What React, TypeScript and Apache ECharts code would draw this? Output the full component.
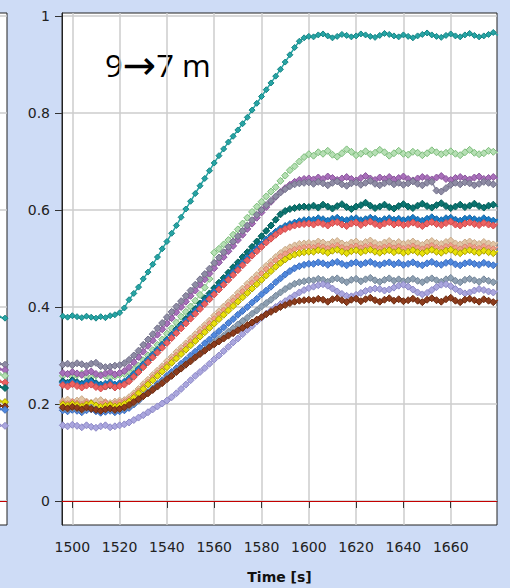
import React, { useEffect, useRef } from 'react';
import * as echarts from 'echarts';

// Sample times (s), one every 2 s
const TIMES = [
  1496, 1498, 1500, 1502, 1504, 1506, 1508, 1510, 1512, 1514, 1516, 1518, 1520,
  1522, 1524, 1526, 1528, 1530, 1532, 1534, 1536, 1538, 1540, 1542, 1544, 1546, 1548, 1550,
  1552, 1554, 1556, 1558, 1560, 1562, 1564, 1566, 1568, 1570, 1572, 1574, 1576, 1578, 1580,
  1582, 1584, 1586, 1588, 1590, 1592, 1594, 1596, 1598, 1600,
  1602, 1604, 1606, 1608, 1610, 1612, 1614, 1616, 1618, 1620, 1622, 1624, 1626, 1628, 1630,
  1632, 1634, 1636, 1638, 1640, 1642, 1644, 1646, 1648, 1650, 1652, 1654, 1656, 1658, 1660,
  1662, 1664, 1666, 1668, 1670, 1672, 1674, 1676, 1678, 1680,
];

// Sensor readings, in thousandths
const TEAL = [
  381, 379, 382, 380, 378, 381, 379, 377, 380, 378, 382, 384, 388,
  398, 415, 428, 441, 458, 472, 488, 503, 520, 535, 552, 568, 585, 602, 618, 634, 650, 665, 681, 697,
  712, 726, 740, 752, 765, 778, 791, 806, 820, 834, 848, 862, 876, 890, 905, 920, 935, 948, 955, 958,
  957, 961, 963, 959, 955, 958, 962, 960, 957, 959, 963, 961, 958, 956, 960, 964, 962, 959, 957, 961,
  958, 955, 959, 962, 965, 961, 958, 956, 960, 963, 959, 957, 961, 964, 960, 957, 959, 962, 966, 960,
];
const LIGHT_GREEN = [
  258, 262, 256, 260, 263, 257, 255, 259, 261, 258, 254, 257, 260,
  262, 266, 272, 279, 290, 300, 311, 322, 333, 345, 356, 368, 380, 390, 401, 413, 425, 440, 458, 512,
  520, 529, 538, 549, 560, 572, 584, 596, 607, 617, 628, 638, 647, 660, 671, 682, 690, 700, 709, 715,
  712, 719, 716, 722, 714, 710, 717, 725, 720, 713, 716, 721, 715, 718, 724, 719, 712, 717, 722, 716,
  714, 720, 718, 713, 717, 723, 719, 715, 718, 721, 716, 713, 719, 724, 718, 715, 717, 722, 720, 718,
];
const PURPLE = [
  264, 262, 266, 263, 260, 265, 267, 262, 259, 263, 266, 261, 264,
  268, 276, 286, 297, 308, 320, 331, 343, 354, 366, 377, 389, 400, 411, 423, 434, 446, 457, 469, 480,
  492, 503, 515, 526, 538, 549, 561, 572, 584, 595, 606, 617, 627, 637, 645, 652, 658, 662, 664, 665,
  663, 667, 664, 669, 666, 662, 665, 668, 664, 661, 666, 670, 665, 662, 667, 664, 668, 663, 666, 669,
  664, 661, 665, 668, 666, 663, 667, 670, 664, 662, 666, 668, 665, 663, 667, 669, 664, 666, 668, 665,
];
const GRAY = [
  281, 283, 280, 284, 282, 279, 283, 285, 278, 276, 277, 279, 280,
  284, 291, 300, 310, 322, 333, 344, 356, 367, 379, 390, 401, 412, 423, 434, 446, 457, 468, 479, 491,
  502, 513, 524, 535, 546, 557, 568, 579, 590, 600, 610, 619, 628, 636, 643, 649, 653, 655, 656, 657,
  654, 658, 655, 651, 656, 659, 653, 650, 655, 657, 652, 656, 660, 654, 651, 655, 658, 653, 656, 652,
  655, 659, 654, 651, 656, 658, 640, 638, 645, 652, 656, 653, 657, 655, 651, 654, 658, 656, 653, 655,
];
const DARK_TEAL = [
  247, 244, 249, 245, 242, 246, 248, 243, 240, 236, 238, 235, 239,
  243, 250, 259, 269, 279, 290, 300, 311, 322, 332, 343, 354, 364, 375, 386, 396, 407, 418, 428, 439,
  450, 460, 471, 482, 492, 503, 513, 524, 535, 546, 557, 568, 580, 591, 598, 602, 604, 606, 607, 606,
  609, 605, 611, 607, 603, 608, 612, 606, 602, 607, 610, 615, 609, 604, 607, 611, 606, 603, 608, 612,
  607, 604, 609, 613, 608, 605, 610, 614, 608, 604, 607, 611, 606, 609, 613, 608, 605, 609, 611, 607,
];
const BLUE = [
  244, 242, 246, 243, 240, 245, 246, 241, 239, 242, 245, 240, 243,
  246, 253, 262, 272, 282, 292, 302, 312, 322, 332, 342, 352, 362, 372, 382, 392, 402, 412, 422, 432,
  442, 452, 462, 472, 482, 492, 502, 512, 521, 530, 539, 547, 555, 562, 567, 571, 574, 577, 579, 580,
  580, 583, 581, 578, 582, 584, 580, 579, 582, 583, 579, 581, 584, 582, 578, 581, 583, 580, 582, 579,
  581, 584, 580, 578, 582, 585, 581, 579, 583, 584, 580, 578, 582, 583, 581, 579, 583, 580, 578, 581,
];
const RED = [
  239, 236, 241, 237, 234, 238, 240, 235, 232, 236, 239, 234, 237,
  240, 247, 256, 266, 276, 286, 296, 306, 316, 326, 336, 346, 356, 366, 376, 386, 396, 406, 416, 426,
  436, 446, 456, 466, 476, 486, 496, 506, 515, 524, 533, 541, 549, 556, 561, 565, 568, 570, 571, 572,
  570, 574, 571, 568, 573, 575, 570, 567, 572, 574, 569, 573, 576, 571, 568, 572, 575, 570, 573, 569,
  571, 574, 570, 567, 572, 575, 571, 569, 573, 576, 570, 568, 572, 574, 571, 569, 573, 570, 568, 572,
];
const TAN = [
  206, 209, 204, 207, 210, 205, 203, 206, 208, 204, 202, 205, 207,
  208, 214, 222, 231, 241, 250, 260, 269, 278, 288, 297, 307, 316, 325, 335, 344, 354, 363, 372, 382,
  391, 401, 410, 419, 429, 438, 448, 457, 466, 476, 485, 494, 503, 511, 518, 523, 527, 530, 531, 532,
  531, 535, 533, 529, 534, 536, 531, 528, 533, 535, 530, 534, 537, 532, 529, 533, 536, 531, 534, 530,
  532, 535, 531, 528, 533, 536, 532, 530, 534, 537, 531, 529, 533, 535, 532, 530, 534, 531, 529, 533,
];
const SALMON = [
  203, 201, 205, 202, 199, 204, 201, 198, 200, 203, 199, 201, 204,
  205, 210, 218, 227, 236, 245, 255, 264, 273, 282, 292, 301, 310, 320, 329, 338, 348, 357, 366, 376,
  385, 394, 404, 413, 422, 432, 441, 450, 459, 469, 478, 487, 496, 504, 510, 515, 519, 521, 523, 524,
  523, 526, 524, 521, 525, 527, 523, 520, 524, 526, 522, 525, 527, 523, 521, 524, 526, 522, 525, 521,
  523, 526, 522, 520, 524, 527, 523, 521, 525, 527, 522, 520, 524, 526, 523, 521, 525, 522, 520, 524,
];
const YELLOW = [
  199, 197, 200, 198, 195, 199, 201, 197, 194, 196, 198, 195, 197,
  200, 205, 213, 222, 231, 240, 249, 258, 267, 276, 285, 294, 303, 312, 321, 330, 339, 348, 357, 366,
  375, 384, 393, 402, 411, 420, 429, 438, 447, 456, 465, 474, 483, 491, 498, 504, 508, 511, 513, 514,
  514, 517, 515, 512, 516, 518, 514, 511, 515, 517, 513, 516, 518, 514, 512, 515, 517, 513, 516, 512,
  514, 517, 513, 511, 515, 518, 514, 512, 516, 518, 513, 511, 515, 517, 514, 512, 516, 513, 511, 515,
];
const CORNFLOWER = [
  187, 185, 188, 186, 183, 187, 189, 185, 182, 184, 186, 183, 185,
  187, 192, 199, 207, 216, 224, 232, 241, 249, 258, 266, 274, 283, 291, 300, 308, 316, 325, 333, 342,
  350, 358, 367, 375, 384, 392, 400, 409, 417, 426, 434, 442, 451, 459, 467, 474, 480, 484, 487, 489,
  489, 492, 490, 487, 491, 493, 489, 486, 490, 492, 488, 491, 493, 489, 487, 490, 492, 488, 491, 487,
  489, 492, 488, 486, 490, 493, 489, 487, 491, 493, 488, 486, 490, 492, 489, 487, 491, 488, 486, 490,
];
const SLATE = [
  191, 189, 192, 190, 187, 191, 193, 189, 186, 188, 190, 187, 189,
  191, 195, 201, 208, 216, 223, 230, 238, 245, 253, 260, 267, 275, 282, 290, 297, 304, 312, 319, 327,
  334, 341, 349, 356, 364, 371, 378, 386, 393, 401, 408, 415, 423, 430, 437, 443, 448, 451, 453, 455,
  455, 458, 456, 452, 457, 459, 455, 451, 456, 458, 453, 457, 460, 455, 452, 456, 459, 454, 457, 453,
  455, 458, 454, 451, 456, 459, 455, 452, 457, 460, 454, 451, 456, 458, 455, 452, 457, 454, 451, 455,
];
const LAVENDER = [
  156, 154, 157, 155, 152, 156, 153, 151, 154, 156, 152, 154, 156,
  158, 162, 167, 172, 177, 183, 189, 195, 201, 207, 214, 222, 231, 240, 249, 258, 266, 274, 283, 292,
  300, 309, 318, 327, 335, 344, 353, 361, 370, 378, 386, 393, 400, 406, 412, 418, 424, 430, 435, 439,
  442, 445, 447, 444, 438, 432, 427, 423, 422, 425, 429, 433, 436, 438, 437, 434, 436, 440, 444, 446,
  442, 436, 430, 426, 429, 435, 441, 446, 447, 443, 437, 432, 428, 430, 434, 437, 435, 432, 430, 433,
];
const BROWN = [
  193, 191, 194, 192, 189, 193, 190, 188, 186, 189, 191, 188, 190,
  193, 198, 204, 210, 216, 222, 229, 236, 243, 251, 258, 266, 273, 281, 288, 296, 303, 310, 317, 323,
  329, 335, 341, 346, 352, 357, 363, 368, 374, 379, 385, 390, 395, 400, 404, 408, 411, 413, 414, 415,
  414, 417, 415, 411, 416, 418, 414, 410, 415, 417, 412, 416, 419, 414, 411, 415, 418, 413, 416, 412,
  414, 417, 413, 410, 415, 418, 414, 411, 416, 419, 413, 410, 415, 417, 414, 411, 416, 413, 410, 414,
];

// Tail end of the neighbouring panel (previous step), in thousandths
const PREV_X = [38, 45];
const PREV_TEAL = [380, 377];
const PREV_GRAY = [283, 281];
const PREV_PURPLE = [272, 270];
const PREV_LIGHT_GREEN = [262, 258];
const PREV_RED = [247, 244];
const PREV_DARK_TEAL = [236, 233];
const PREV_YELLOW = [206, 204];
const PREV_BROWN = [197, 195];
const PREV_CORNFLOWER = [190, 188];
const PREV_LAVENDER = [156, 155];

const X_TICKS = [1500, 1520, 1540, 1560, 1580, 1600, 1620, 1640, 1660];
const Y_TICKS = [0, 0.2, 0.4, 0.6, 0.8, 1];

const X_MIN = 1495.64;
const X_MAX = 1679.57;
const Y_MIN = -0.0495;
const Y_MAX = 1.0062;

type Style = { name: string; color: string; border: string; symbol: string; size: number };

const STYLES: Record<string, Style> = {
  teal: { name: 'S1', color: '#26a4a4', border: '#168484', symbol: 'diamond', size: 6 },
  lightGreen: { name: 'S2', color: '#b6dfb4', border: '#7cbd7a', symbol: 'diamond', size: 7 },
  purple: { name: 'S3', color: '#a86fba', border: '#8a569c', symbol: 'diamond', size: 7 },
  gray: { name: 'S4', color: '#8e8ca4', border: '#72708a', symbol: 'diamond', size: 7 },
  darkTeal: { name: 'S5', color: '#0b736f', border: '#005c58', symbol: 'diamond', size: 7 },
  blue: { name: 'S6', color: '#1c7cc6', border: '#1466a8', symbol: 'diamond', size: 7 },
  red: { name: 'S7', color: '#ec6262', border: '#d24a4a', symbol: 'diamond', size: 7 },
  tan: { name: 'S8', color: '#e2c6a6', border: '#c9aa88', symbol: 'diamond', size: 7 },
  salmon: { name: 'S9', color: '#f0a08a', border: '#d88670', symbol: 'diamond', size: 6 },
  yellow: { name: 'S10', color: '#e8e00a', border: '#a89e00', symbol: 'diamond', size: 7 },
  cornflower: { name: 'S11', color: '#5088dc', border: '#3a6cc0', symbol: 'diamond', size: 7 },
  slate: { name: 'S12', color: '#8ea0b2', border: '#728498', symbol: 'diamond', size: 7 },
  lavender: { name: 'S13', color: '#aaa6de', border: '#8c88c6', symbol: 'diamond', size: 7 },
  brown: { name: 'S14', color: '#8c3c1c', border: '#6c2a10', symbol: 'diamond', size: 7 },
};

function mainSeries(key: string, values: number[]) {
  const s = STYLES[key];
  return {
    type: 'line',
    name: s.name,
    xAxisIndex: 0,
    yAxisIndex: 0,
    data: TIMES.map((t, i) => [t, values[i] / 1000]),
    symbol: s.symbol,
    symbolSize: s.size,
    showSymbol: true,
    showAllSymbol: true,
    clip: true,
    silent: true,
    lineStyle: { color: s.color, width: 1.5 },
    itemStyle: { color: s.color, borderColor: s.border, borderWidth: 1 },
    emphasis: { disabled: true },
  };
}

function prevSeries(key: string, values: number[]) {
  const s = STYLES[key];
  return {
    type: 'line',
    xAxisIndex: 1,
    yAxisIndex: 1,
    data: PREV_X.map((x, i) => [x, values[i] / 1000]),
    symbol: s.symbol,
    symbolSize: s.size,
    showSymbol: true,
    clip: true,
    silent: true,
    lineStyle: { color: s.color, width: 1.5 },
    itemStyle: { color: s.color, borderColor: s.border, borderWidth: 1 },
    emphasis: { disabled: true },
  };
}

const zeroLine = {
  silent: true,
  symbol: 'none',
  label: { show: false },
  lineStyle: { color: '#c40000', width: 1.2, type: 'solid' },
  data: [{ yAxis: 0 }],
};

const tickFont = { fontFamily: 'DejaVu Sans', fontSize: 14, color: '#222' };

const option = {
  animation: false,
  backgroundColor: '#cedcf6',
  grid: [
    {
      left: 62, top: 13, width: 435, height: 512,
      show: true, backgroundColor: '#ffffff', borderColor: '#222', borderWidth: 1,
      containLabel: false, outerBoundsMode: 'none',
    },
    {
      left: -40, top: 13, width: 47, height: 512,
      show: true, backgroundColor: '#ffffff', borderColor: '#222', borderWidth: 1,
      containLabel: false, outerBoundsMode: 'none',
    },
  ],
  xAxis: [
    {
      type: 'value', gridIndex: 0, min: X_MIN, max: X_MAX,
      axisLine: { show: true, lineStyle: { color: '#222', width: 1 } },
      axisTick: { show: true, customValues: X_TICKS, length: 7, lineStyle: { color: '#333', width: 1 } },
      axisLabel: {
        show: true, customValues: X_TICKS, margin: 15, ...tickFont,
        formatter: (v: number) => String(v),
      },
      splitLine: { show: true, lineStyle: { color: '#cdcdcd', width: 1.5 } },
      name: 'Time [s]', nameLocation: 'middle', nameGap: 45,
      nameTextStyle: { fontFamily: 'DejaVu Sans', fontSize: 14, fontWeight: 'bold', color: '#111' },
    },
    {
      type: 'value', gridIndex: 1, min: 0, max: 47, show: false,
    },
  ],
  yAxis: [
    {
      type: 'value', gridIndex: 0, min: Y_MIN, max: Y_MAX,
      axisLine: { show: true, lineStyle: { color: '#222', width: 1 } },
      axisTick: { show: true, customValues: Y_TICKS, length: 7, lineStyle: { color: '#333', width: 1 } },
      axisLabel: {
        show: true, customValues: Y_TICKS, margin: 12, ...tickFont,
        formatter: (v: number) => String(v),
      },
      splitLine: { show: true, lineStyle: { color: '#cdcdcd', width: 1.5 } },
    },
    {
      type: 'value', gridIndex: 1, min: Y_MIN, max: Y_MAX,
      axisLine: { show: false },
      axisTick: { show: false, customValues: Y_TICKS },
      axisLabel: { show: false, customValues: Y_TICKS },
      splitLine: { show: true, lineStyle: { color: '#cdcdcd', width: 1.5 } },
    },
  ],
  graphic: [
    {
      type: 'text',
      left: 105,
      top: 45,
      silent: true,
      style: {
        text: '{n|9}{a|→}{n|7 m}',
        rich: {
          n: { fontFamily: 'Open Sans', fontSize: 31, fill: '#000', verticalAlign: 'middle' },
          a: { fontFamily: 'DejaVu Sans', fontSize: 40, fill: '#000', verticalAlign: 'middle' },
        },
      },
    },
  ],
  series: [
    { ...mainSeries('teal', TEAL), markLine: zeroLine },
    mainSeries('lightGreen', LIGHT_GREEN),
    mainSeries('purple', PURPLE),
    mainSeries('gray', GRAY),
    mainSeries('darkTeal', DARK_TEAL),
    mainSeries('blue', BLUE),
    mainSeries('red', RED),
    mainSeries('tan', TAN),
    mainSeries('salmon', SALMON),
    mainSeries('yellow', YELLOW),
    mainSeries('cornflower', CORNFLOWER),
    mainSeries('slate', SLATE),
    mainSeries('lavender', LAVENDER),
    mainSeries('brown', BROWN),
    { ...prevSeries('teal', PREV_TEAL), markLine: zeroLine },
    prevSeries('gray', PREV_GRAY),
    prevSeries('purple', PREV_PURPLE),
    prevSeries('lightGreen', PREV_LIGHT_GREEN),
    prevSeries('red', PREV_RED),
    prevSeries('darkTeal', PREV_DARK_TEAL),
    prevSeries('yellow', PREV_YELLOW),
    prevSeries('brown', PREV_BROWN),
    prevSeries('cornflower', PREV_CORNFLOWER),
    prevSeries('lavender', PREV_LAVENDER),
  ],
};

export default function App() {
  const ref = useRef<HTMLDivElement>(null);
  useEffect(() => {
    if (!ref.current) return;
    const chart = echarts.init(ref.current, null, { renderer: 'svg' });
    chart.setOption(option as any);
    return () => chart.dispose();
  }, []);
  return (
    <div
      ref={ref}
      style={{ position: 'fixed', left: 0, top: 0, width: 510, height: 588, background: '#cedcf6' }}
    />
  );
}
